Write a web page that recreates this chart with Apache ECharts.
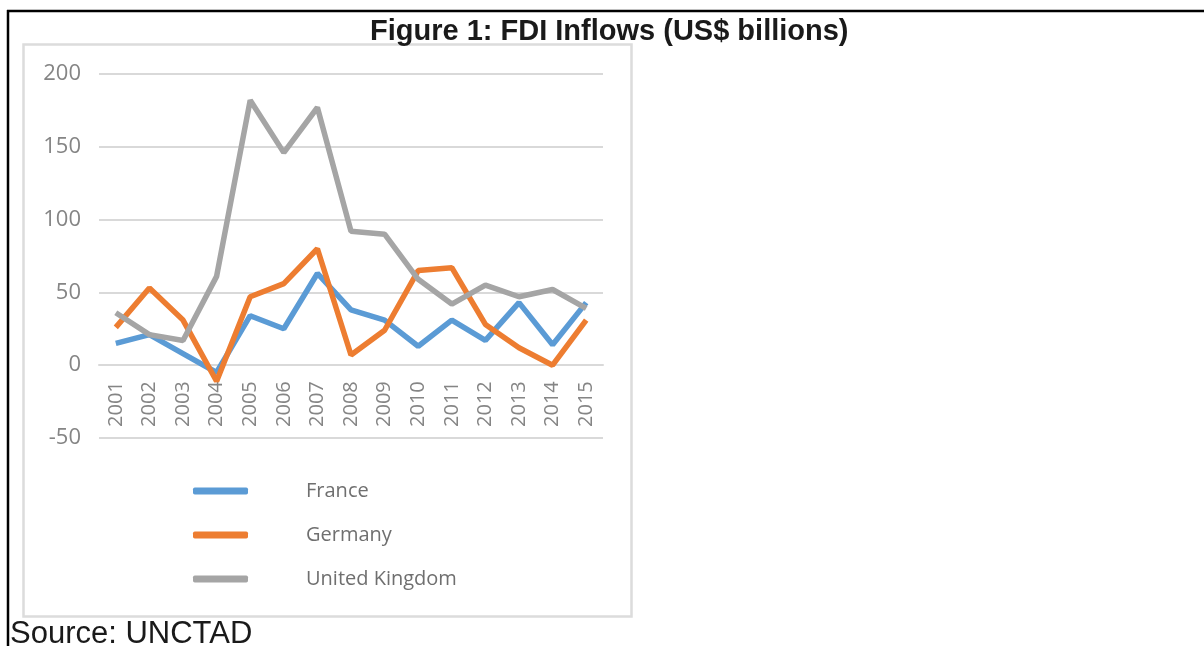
<!DOCTYPE html>
<html>
<head>
<meta charset="utf-8">
<script src="https://cdn.jsdelivr.net/npm/echarts@6/dist/echarts.min.js"></script>
<style>
  html, body { margin: 0; padding: 0; background: #fff; }
  #main { width: 1204px; height: 646px; }
</style>
</head>
<body>
<div id="main"></div>
<script>
var years = ['2001', '2002', '2003', '2004', '2005', '2006', '2007', '2008',
  '2009', '2010', '2011', '2012', '2013', '2014', '2015'];
var france = [15, 21, 8, -5, 34, 25, 63, 38, 31, 13, 31, 17, 43, 14, 43];
var germany = [26, 53, 31, -11, 47, 56, 80, 7, 24, 65, 67, 28, 12, 0, 31];
var uk = [36, 21, 17, 61, 182, 146, 177, 92, 90, 59, 42, 55, 47, 52, 39];

var chartDom = document.getElementById('main');
var myChart = echarts.init(chartDom);
var option;

var grayText = '#858585';
var gridGray = '#d9d9d9';

// grid spans -50..200 over 364px, x axis sits on the zero line
var gridTop = 74, gridBottom = 208;
var zeroOffset = (646 - gridTop - gridBottom) * 50 / 250;

option = {
  backgroundColor: '#fff',
  animation: false,
  title: [
    {
      text: 'Figure 1: FDI Inflows (US$ billions)',
      left: 370,
      top: 17,
      padding: 0,
      textStyle: {
        fontFamily: 'Liberation Sans',
        fontWeight: 'bold',
        fontSize: 29,
        color: '#1a1a1a'
      }
    },
    {
      text: 'Source: UNCTAD',
      left: 10,
      top: 619,
      padding: 0,
      textStyle: {
        fontFamily: 'Liberation Sans',
        fontWeight: 'normal',
        fontSize: 31,
        color: '#1a1a1a'
      }
    }
  ],
  graphic: [
    // outer black frame (top and left only)
    { type: 'line', silent: true, shape: { x1: 7, y1: 11, x2: 1204, y2: 11 },
      style: { stroke: '#000', lineWidth: 2.5 } },
    { type: 'line', silent: true, shape: { x1: 8, y1: 10, x2: 8, y2: 646 },
      style: { stroke: '#000', lineWidth: 2.5 } },
    // chart area border
    { type: 'rect', silent: true, shape: { x: 23.5, y: 44.5, width: 608, height: 572 },
      style: { fill: 'none', stroke: '#dcdcdc', lineWidth: 2.5 } }
  ],
  legend: {
    orient: 'vertical',
    left: 193,
    top: 481,
    padding: 0,
    itemWidth: 55,
    itemHeight: 7,
    itemGap: 24,
    icon: 'roundRect',
    data: ['France', 'Germany', 'United Kingdom'],
    textStyle: {
      fontFamily: 'Open Sans',
      fontSize: 20,
      color: '#6f6f6f',
      padding: [0, 0, 0, 53]
    }
  },
  grid: {
    left: 99,
    right: 601,
    top: gridTop,
    bottom: gridBottom
  },
  xAxis: {
    type: 'category',
    data: years,
    boundaryGap: true,
    offset: -zeroOffset,
    axisLine: { onZero: false, lineStyle: { color: gridGray, width: 2 } },
    axisTick: { show: false },
    axisLabel: {
      rotate: 90,
      margin: 16,
      fontFamily: 'Open Sans',
      fontSize: 20,
      color: grayText
    }
  },
  yAxis: {
    type: 'value',
    min: -50,
    max: 200,
    interval: 50,
    axisLine: { show: false },
    axisTick: { show: false },
    axisLabel: {
      margin: 18,
      fontFamily: 'Open Sans',
      fontSize: 22,
      color: grayText
    },
    splitLine: { lineStyle: { color: gridGray, width: 2 } }
  },
  series: [
    {
      name: 'France',
      type: 'line',
      data: france,
      symbol: 'none',
      color: '#5b9bd5',
      lineStyle: { width: 5.5, color: '#5b9bd5' }
    },
    {
      name: 'Germany',
      type: 'line',
      data: germany,
      symbol: 'none',
      color: '#ed7d31',
      lineStyle: { width: 5.5, color: '#ed7d31' }
    },
    {
      name: 'United Kingdom',
      type: 'line',
      data: uk,
      symbol: 'none',
      color: '#a5a5a5',
      lineStyle: { width: 5.5, color: '#a5a5a5' }
    }
  ]
};

option && myChart.setOption(option);
</script>
</body>
</html>
